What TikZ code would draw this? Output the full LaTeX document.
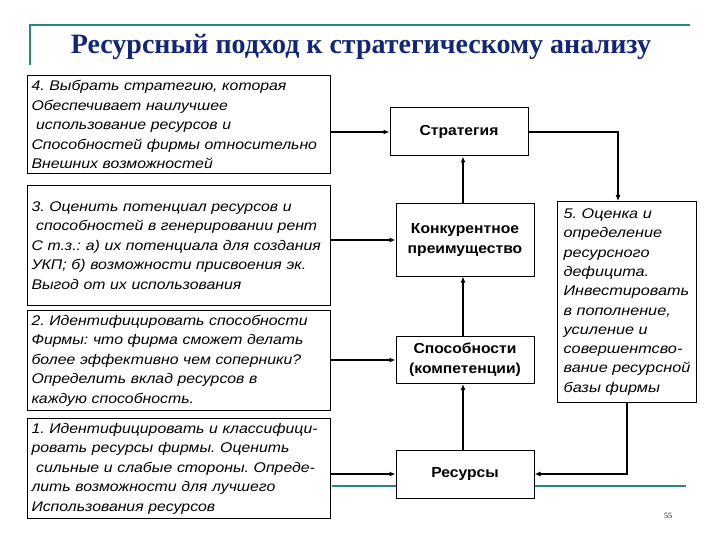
\documentclass[tikz,border=0pt]{standalone}
\usepackage{fontspec}
\setmainfont{Liberation Serif}
\setsansfont{Liberation Sans}
\newfontfamily\stepfont[FakeStretch=1.13]{Liberation Sans}
\newfontfamily\widefont[FakeStretch=1.16]{Liberation Sans}
\newfontfamily\corefont[FakeStretch=1.08]{Liberation Sans}
\usetikzlibrary{arrows.meta}
\definecolor{slideteal}{RGB}{38,134,134}
\definecolor{titleblue}{RGB}{18,38,120}
\frenchspacing

\begin{document}
\begin{tikzpicture}[x=1pt, y=-1pt, every node/.style={font=\sffamily}]
\tikzset{
  stepbox/.style={draw, line width=1pt, fill=white, align=left, anchor=north west,
    minimum width=303pt, text width=295pt, inner sep=4pt,
    font=\stepfont\itshape\fontsize{14}{19.5}\selectfont},
  defbox/.style={draw, line width=1pt, fill=white, align=left, anchor=north west,
    minimum width=139pt, minimum height=201pt, inner sep=3pt,
    font=\widefont\itshape\fontsize{14}{19.3}\selectfont},
  core/.style={draw, line width=1pt, fill=white, align=center, minimum width=138pt,
    font=\corefont\bfseries\fontsize{14.5}{20}\selectfont},
  arr/.style={-{Latex[length=6pt,width=5pt]}, line width=1.6pt},
  thinarr/.style={-{Latex[length=6pt,width=5pt]}, line width=1.1pt},
}
\useasboundingbox (0,0) rectangle (720,540);
% slide frame
\draw[slideteal, line width=2pt] (30,65) -- (30,25) -- (690,25);
\draw[slideteal, line width=2.5pt] (332,486) -- (686,486);
\node[font=\rmfamily\bfseries\fontsize{28}{30}\selectfont, text=titleblue] (title) at (361,47)
  {Ресурсный подход к стратегическому анализу};
% steps (left column)
\node[stepbox, minimum height=98pt] (b4) at (27,75) {4. Выбрать стратегию, которая\\Обеспечивает наилучшее\\\ использование ресурсов и\\Способностей фирмы относительно\\Внешних возможностей};
\node[stepbox, minimum height=120pt] (b3) at (27,185) {3. Оценить потенциал ресурсов и\\\ способностей в генерировании рент\\С т.з.: а) их потенциала для создания\\УКП; б) возможности присвоения эк.\\Выгод от их использования};
\node[stepbox, minimum height=100pt] (b2) at (27,310) {2. Идентифицировать способности\\Фирмы: что фирма сможет делать\\более эффективно чем соперники?\\Определить вклад ресурсов в\\каждую способность.};
\node[stepbox, minimum height=100pt] (b1) at (27,418) {1. Идентифицировать и классифици-\\ровать ресурсы фирмы. Оценить\\\ сильные и слабые стороны. Опреде-\\лить возможности для лучшего\\Использования ресурсов};
% core chain (middle column)
\node[core, minimum height=48pt] (strat) at (459,132) {Стратегия};
\node[core, minimum height=72pt] (adv) at (465,240) {Конкурентное\\преимущество};
\node[core, minimum height=47pt] (cap) at (465,360) {Способности\\(компетенции)};
\node[core, minimum height=48pt] (res) at (465,474) {Ресурсы};
% step 5 (right)
\node[defbox] (def) at (557,201)
  {5. Оценка и\\определение\\ресурсного\\дефицита.\\Инвестировать\\в пополнение,\\усиление и\\совершентсво-\\вание ресурсной\\базы фирмы};
% arrows
\draw[arr] (b4.east |- strat.west) -- (strat.west);
\draw[arr] (b3.east |- adv.west) -- (adv.west);
\draw[arr] (b2.east |- cap.west) -- (cap.west);
\draw[arr] (b1.east |- res.west) -- (res.west);
\draw[arr] (res.north -| 463,0) -- (cap.south -| 463,0);
\draw[arr] (cap.north -| 463,0) -- (adv.south -| 463,0);
\draw[arr] (adv.north -| 463,0) -- (strat.south -| 463,0);
\draw[thinarr] (strat.east) -| ([xshift=-9pt]def.north);
\draw[thinarr] (def.south) |- (res.east);
\node[font=\rmfamily\fontsize{8}{8}\selectfont] (pg) at (668,516) {55};
\end{tikzpicture}
\end{document}
